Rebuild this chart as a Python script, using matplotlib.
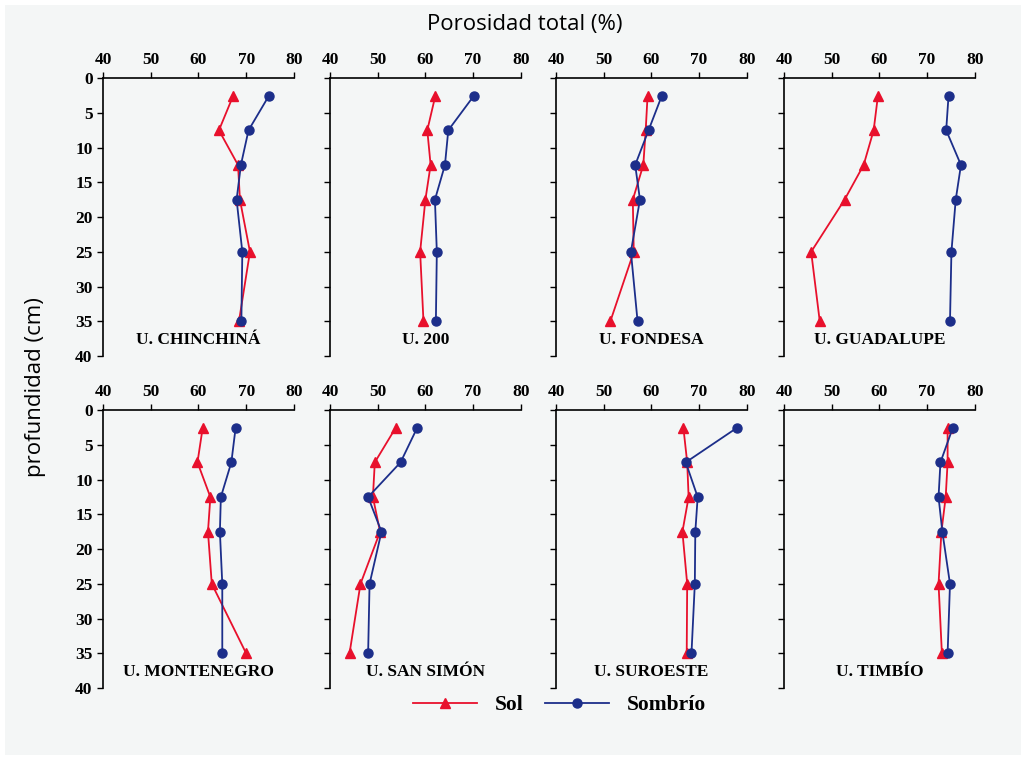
import matplotlib.pyplot as plt
from matplotlib.lines import Line2D
from matplotlib.patches import Rectangle

depth = [2.5, 7.5, 12.5, 17.5, 25, 35]

names = ["U. CHINCHINÁ", "U. 200", "U. FONDESA", "U. GUADALUPE",
         "U. MONTENEGRO", "U. SAN SIMÓN", "U. SUROESTE", "U. TIMBÍO"]

sol_chinchina = [67.3, 64.3, 68.3, 68.7, 70.8, 68.5]
sol_200 = [62.1, 60.4, 61.1, 60.0, 58.9, 59.6]
sol_fondesa = [59.2, 58.8, 58.3, 56.1, 56.3, 51.4]
sol_guadalupe = [59.7, 58.8, 56.7, 52.7, 45.7, 47.5]
sol_montenegro = [60.9, 59.8, 62.5, 62.0, 62.8, 70.0]
sol_sansimon = [53.8, 49.4, 49.0, 50.5, 46.4, 44.1]
sol_suroeste = [66.7, 67.5, 67.8, 66.5, 67.5, 67.4]
sol_timbio = [74.3, 74.3, 73.9, 73.0, 72.4, 73.1]

som_chinchina = [74.8, 70.5, 68.9, 68.0, 69.2, 69.0]
som_200 = [70.2, 64.8, 64.1, 62.0, 62.4, 62.2]
som_fondesa = [62.2, 59.4, 56.6, 57.6, 55.7, 57.1]
som_guadalupe = [74.5, 74.0, 77.1, 76.0, 75.1, 74.8]
som_montenegro = [67.8, 66.9, 64.7, 64.5, 65.0, 65.0]
som_sansimon = [58.3, 54.8, 48.0, 50.8, 48.3, 48.0]
som_suroeste = [78.0, 67.2, 69.7, 69.2, 69.1, 68.4]
som_timbio = [75.4, 72.8, 72.4, 73.2, 74.8, 74.3]

sol = [sol_chinchina, sol_200, sol_fondesa, sol_guadalupe,
       sol_montenegro, sol_sansimon, sol_suroeste, sol_timbio]
som = [som_chinchina, som_200, som_fondesa, som_guadalupe,
       som_montenegro, som_sansimon, som_suroeste, som_timbio]

red = '#e8102c'
blue = '#1c2e8a'
bg = '#f4f6f6'
serif = 'Liberation Serif'

fig = plt.figure(figsize=(10.26, 7.59), dpi=100, facecolor='white')
# grey panel with a thin white margin
fig.patches.append(Rectangle((5 / 1026, 4 / 759), 1016 / 1026, 750 / 759,
                             transform=fig.transFigure, facecolor=bg,
                             edgecolor='none', zorder=-10))

lefts = [0.1004, 0.3216, 0.5419, 0.7641]
bottoms = [0.531, 0.0935]
w = 0.186
h = 0.366

for i in range(8):
    row = i // 4
    col = i % 4
    ax = fig.add_axes([lefts[col], bottoms[row], w, h])
    ax.set_facecolor(bg)
    ax.plot(sol[i], depth, color=red, lw=1.3, marker='^', ms=6.5, zorder=3)
    ax.plot(som[i], depth, color=blue, lw=1.3, marker='o', ms=6.5, zorder=4)
    ax.set_xlim(40, 80)
    ax.set_ylim(40, 0)
    ax.set_xticks([40, 50, 60, 70, 80])
    ax.set_yticks(range(0, 41, 5))
    ax.xaxis.tick_top()
    ax.spines['right'].set_visible(False)
    ax.spines['bottom'].set_visible(False)
    ax.spines['top'].set_linewidth(1.2)
    ax.spines['left'].set_linewidth(1.2)
    ax.tick_params(axis='both', direction='out', length=4, width=1.0)
    for lab in ax.get_xticklabels():
        lab.set_fontfamily(serif)
        lab.set_fontweight('bold')
        lab.set_fontsize(12.5)
    if col == 0:
        for lab in ax.get_yticklabels():
            lab.set_fontfamily(serif)
            lab.set_fontweight('bold')
            lab.set_fontsize(12.5)
    else:
        ax.set_yticklabels([])
    ax.text(0.5, 0.03, names[i], transform=ax.transAxes, ha='center', va='bottom',
            fontfamily=serif, fontweight='bold', fontsize=12.5)

fig.text(0.511, 0.968, 'Porosidad total (%)', ha='center', va='center',
         fontfamily='Open Sans', fontsize=16)
fig.text(0.035, 0.49, 'profundidad (cm)', ha='center', va='center',
         rotation=90, fontfamily='Open Sans', fontsize=16)

handles = [Line2D([], [], color=red, lw=1.3, marker='^', ms=6.5),
           Line2D([], [], color=blue, lw=1.3, marker='o', ms=6.5)]
leg = fig.legend(handles, ['Sol', 'Sombrío'], loc='center', bbox_to_anchor=(0.545, 0.071),
                 ncol=2, frameon=False, handlelength=3, columnspacing=1.0,
                 prop={'family': serif, 'weight': 'bold', 'size': 15.5})

fig.savefig('out.png', dpi=100, facecolor='white')
